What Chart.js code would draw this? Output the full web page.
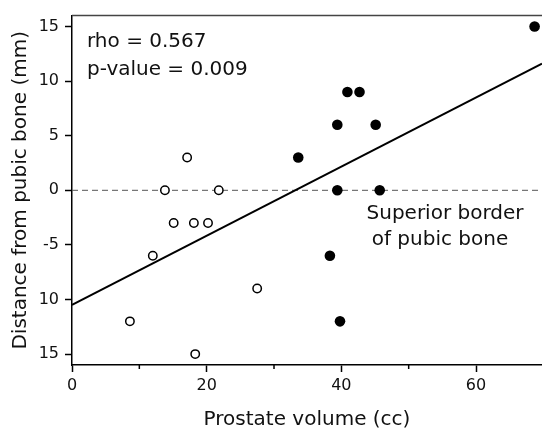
<!DOCTYPE html>
<html>
<head>
<meta charset="utf-8">
<title>Prostate volume vs distance from pubic bone</title>
<script src="https://cdn.jsdelivr.net/npm/chart.js@4.4.1/dist/chart.umd.min.js"></script>
<style>
    html, body { margin: 0; padding: 0; background: #fff; }
    #wrap { width: 542px; height: 430px; }
</style>
</head>
<body>
<div id="wrap"><canvas id="scatterChart" width="542" height="430"></canvas></div>
<script>
// open circles
const openX = [13.8, 17.1, 21.8, 15.1, 18.1, 20.2, 12.0, 8.6, 18.3, 27.5];
const openY = [0, 3, 0, -3, -3, -3, -6, -12, -15, -9];

// filled circles
const filledX = [68.7, 40.9, 42.7, 39.4, 45.1, 33.6, 39.4, 45.7, 38.3, 39.8];
const filledY = [15, 9, 9, 6, 6, 3, 0, 0, -6, -12];

// regression line (end points)
const fitX = [0, 69.8];
const fitY = [-10.5, 11.6];

// superior border of pubic bone
const borderX = [0, 69.8];
const borderY = [0, 0];

const xTickValues = [0, 20, 40, 60];
const xTickLabels = ['0', '20', '40', '60'];
const xMinorTicks = [10, 30, 50];
const yTickValues = [15, 10, 5, 0, -5, -10, -15];
const yTickLabels = ['15', '10', '5', '0', '-5', '10', '15'];

const statLines = ['rho = 0.567', 'p-value = 0.009'];
const noteLines = ['Superior border', 'of pubic bone'];

const FONT = "'DejaVu Sans', sans-serif";

function toPoints(xs, ys) {
    return xs.map((x, i) => ({ x: x, y: ys[i] }));
}

// top frame line, minor x ticks and the text notes
const extrasPlugin = {
    id: 'extras',
    afterDraw(chart) {
        const ctx = chart.ctx;
        const area = chart.chartArea;
        const xs = chart.scales.x;
        const ys = chart.scales.y;
        ctx.save();

        ctx.strokeStyle = '#444';
        ctx.lineWidth = 1.5;
        ctx.beginPath();
        ctx.moveTo(area.left, area.top);
        ctx.lineTo(area.right, area.top);
        ctx.stroke();

        ctx.strokeStyle = '#000';
        ctx.lineWidth = 1.5;
        xMinorTicks.forEach(v => {
            const px = xs.getPixelForValue(v);
            ctx.beginPath();
            ctx.moveTo(px, area.bottom);
            ctx.lineTo(px, area.bottom + 4);
            ctx.stroke();
        });

        ctx.fillStyle = '#111';
        ctx.font = '20px ' + FONT;
        ctx.textBaseline = 'middle';
        ctx.textAlign = 'left';
        statLines.forEach((t, i) => {
            ctx.fillText(t, area.left + 15, area.top + 26 + i * 28);
        });

        ctx.textAlign = 'center';
        const y0 = ys.getPixelForValue(0);
        ctx.fillText(noteLines[0], 445, y0 + 23);
        ctx.fillText(noteLines[1], 440, y0 + 49);

        ctx.restore();
    }
};

document.addEventListener('DOMContentLoaded', function() {
    const ctx = document.getElementById('scatterChart').getContext('2d');

    new Chart(ctx, {
        type: 'scatter',
        data: {
            datasets: [
                {
                    label: 'filled',
                    data: toPoints(filledX, filledY),
                    pointRadius: 5.3,
                    pointBackgroundColor: '#000',
                    pointBorderColor: '#000',
                    pointBorderWidth: 0
                },
                {
                    label: 'open',
                    data: toPoints(openX, openY),
                    pointRadius: 4.2,
                    pointBackgroundColor: '#fff',
                    pointBorderColor: '#000',
                    pointBorderWidth: 1.5
                },
                {
                    type: 'line',
                    label: 'fit',
                    data: toPoints(fitX, fitY),
                    borderColor: '#000',
                    borderWidth: 2,
                    pointRadius: 0,
                    fill: false
                },
                {
                    type: 'line',
                    label: 'border',
                    data: toPoints(borderX, borderY),
                    borderColor: '#555',
                    borderWidth: 1,
                    borderDash: [6, 4],
                    pointRadius: 0,
                    fill: false
                }
            ]
        },
        options: {
            responsive: false,
            animation: false,
            layout: { autoPadding: false, padding: { top: 14, right: 0, left: 0, bottom: 0 } },
            plugins: {
                legend: { display: false },
                tooltip: { enabled: false }
            },
            scales: {
                x: {
                    type: 'linear',
                    min: 0,
                    max: 69.8,
                    afterFit: scale => { scale.height = 65; },
                    afterBuildTicks: scale => {
                        scale.ticks = xTickValues.map(v => ({ value: v }));
                    },
                    grid: { drawOnChartArea: false, drawTicks: true, tickLength: 7, tickWidth: 1.5, tickColor: '#000' },
                    border: { color: '#000', width: 1.5 },
                    ticks: {
                        padding: 4,
                        color: '#111',
                        font: { family: FONT, size: 16 },
                        callback: value => xTickLabels[xTickValues.indexOf(value)]
                    },
                    title: {
                        display: true,
                        text: 'Prostate volume (cc)',
                        color: '#111',
                        font: { family: FONT, size: 20, lineHeight: 1 },
                        padding: { top: 0, bottom: 0 }
                    }
                },
                y: {
                    type: 'linear',
                    min: -16,
                    max: 16,
                    afterFit: scale => { scale.width = 72; },
                    afterBuildTicks: scale => {
                        scale.ticks = yTickValues.map(v => ({ value: v }));
                    },
                    grid: { drawOnChartArea: false, drawTicks: true, tickLength: 7, tickWidth: 1.5, tickColor: '#000' },
                    border: { color: '#000', width: 1.5 },
                    ticks: {
                        padding: 6,
                        color: '#111',
                        font: { family: FONT, size: 16 },
                        callback: value => yTickLabels[yTickValues.indexOf(value)]
                    },
                    title: {
                        display: true,
                        text: 'Distance from pubic bone (mm)',
                        color: '#111',
                        font: { family: FONT, size: 20, lineHeight: 1.2 },
                        padding: { top: 9, bottom: 0 }
                    }
                }
            }
        },
        plugins: [extrasPlugin]
    });
});
</script>
</body>
</html>
